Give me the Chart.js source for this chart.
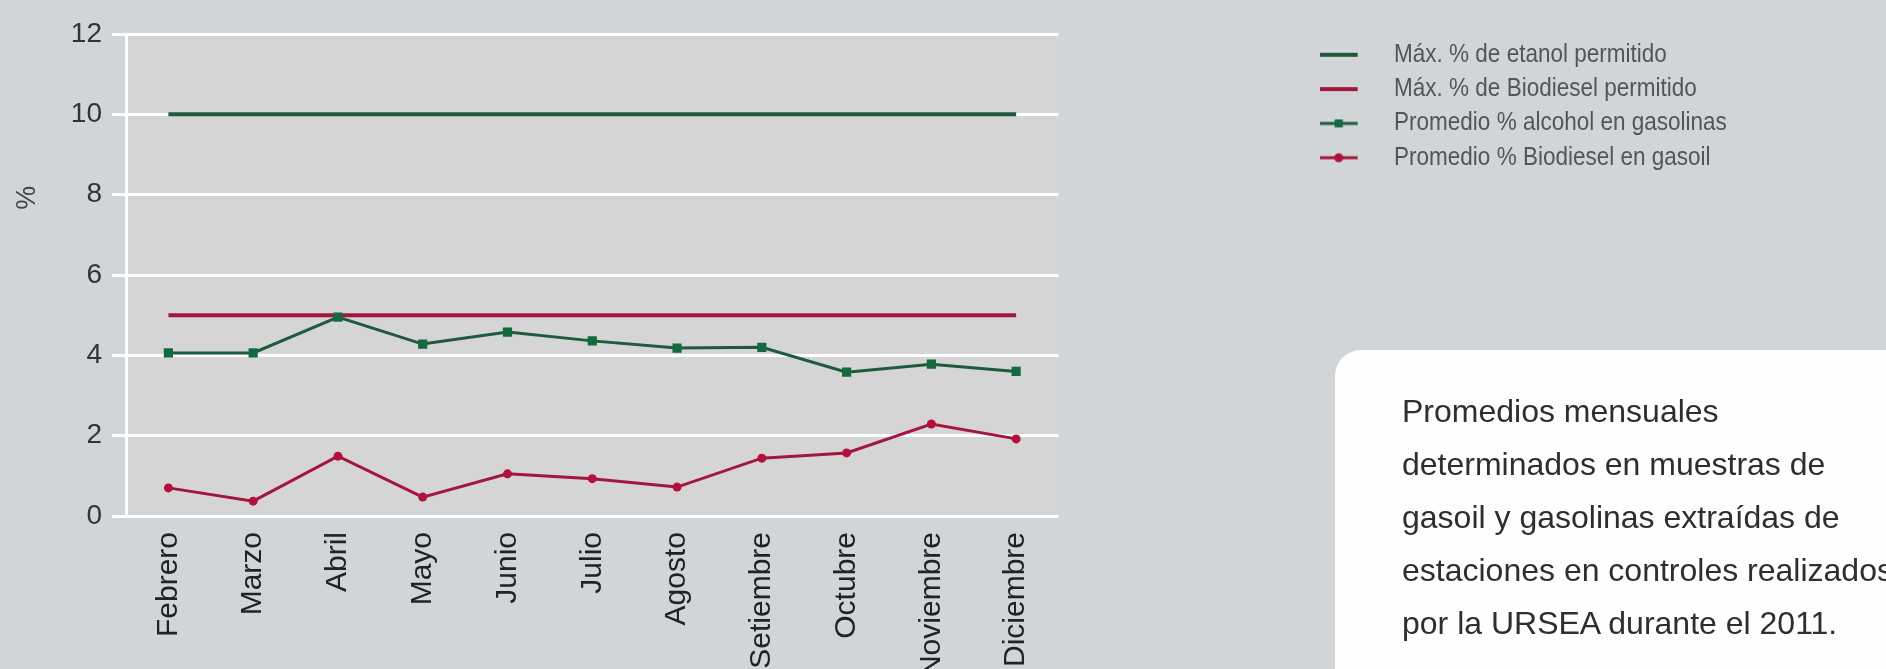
<!DOCTYPE html>
<html>
<head>
<meta charset="utf-8">
<script src="https://cdn.jsdelivr.net/npm/chart.js@4.4.1/dist/chart.umd.min.js"></script>
<style>
  html, body { margin: 0; padding: 0; width: 1886px; height: 669px; overflow: hidden; background: #d2d5d8; }
  #wrap { position: absolute; left: 0; top: 0; width: 1886px; height: 669px; }
  #note {
    position: absolute; left: 1335px; top: 350px; width: 700px; height: 360px;
    background: #fefefe; border-radius: 26px;
  }
  #noteText {
    position: absolute; left: 1402px; top: 385px; white-space: nowrap;
    font-family: "Liberation Sans", Arial, sans-serif; font-size: 32px; line-height: 53px; color: #2e2e2e;
  }
</style>
</head>
<body>
<div id="note"></div>
<div id="wrap"><canvas id="c"></canvas></div>
<div id="noteText">Promedios mensuales<br>determinados en muestras de<br>gasoil y gasolinas extraídas de<br>estaciones en controles realizados<br>por la URSEA durante el 2011.</div>
<script>
const categories = ['Febrero','Marzo','Abril','Mayo','Junio','Julio','Agosto','Setiembre','Octubre','Noviembre','Diciembre'];
const maxEtanol = [10,10,10,10,10,10,10,10,10,10,10];
const maxBiodiesel = [5,5,5,5,5,5,5,5,5,5,5];
const promAlcohol = [4.06,4.06,4.95,4.28,4.58,4.36,4.18,4.2,3.58,3.78,3.6];
const promBiodiesel = [0.70,0.37,1.49,0.47,1.05,0.93,0.72,1.44,1.57,2.29,1.92];
const yTicks = [0,2,4,6,8,10,12];
const seriesLabels = ['Máx. % de etanol permitido','Máx. % de Biodiesel permitido','Promedio % alcohol en gasolinas','Promedio % Biodiesel en gasoil'];

const GREEN_LINE = '#1f5a3c', GREEN_PT = '#136a3f';
const RED_LINE = '#a3173f', RED_PT = '#b3103c';
const SANS = '"Liberation Sans", Arial, sans-serif';
const LEGEND_SX = 0.9;   // horizontal squeeze of the legend (condensed look)

function makeSample(color, lw, marker, markerColor) {
  const c = document.createElement('canvas');
  c.width = 70; c.height = 14;
  const g = c.getContext('2d');
  g.strokeStyle = color; g.lineWidth = lw;
  g.beginPath(); g.moveTo(0, 7); g.lineTo(42, 7); g.stroke();
  g.fillStyle = markerColor;
  if (marker === 'rect') { g.fillRect(21 - 4.5, 3, 9, 8); }
  if (marker === 'circle') { g.beginPath(); g.ellipse(21, 7, 5, 4.5, 0, 0, Math.PI * 2); g.fill(); }
  return c;
}
const samples = [
  makeSample(GREEN_LINE, 4, null),
  makeSample(RED_LINE, 4, null),
  makeSample(GREEN_LINE, 3, 'rect', GREEN_PT),
  makeSample(RED_LINE, 3, 'circle', RED_PT)
];

// legend: allow a wider box than the default limit, and draw it slightly condensed
const legendPlugin = {
  id: 'legendTweak',
  beforeLayout(chart) {
    const lg = chart.legend;
    if (lg && !lg._tweaked) {
      const origFit = lg.fit.bind(lg);
      lg.fit = function () { this.maxWidth = 640; origFit(); };
      const origDraw = lg.draw.bind(lg);
      lg.draw = function (area) {
        const ctx = this.ctx;
        const x0 = this.left + this.options.labels.padding;
        ctx.save();
        ctx.translate(x0, 0); ctx.scale(LEGEND_SX, 1); ctx.translate(-x0, 0);
        origDraw(area);
        ctx.restore();
      };
      lg._tweaked = true;
    }
  }
};

const bgPlugin = {
  id: 'bg',
  beforeDraw(chart) {
    const {ctx, chartArea: a} = chart;
    ctx.save();
    ctx.fillStyle = '#d5d5d5';
    ctx.fillRect(a.left, a.top, a.right - a.left, a.bottom - a.top);
    ctx.restore();
  },
  afterDraw(chart) {
    const ctx = chart.ctx;
    const y = chart.scales.y.getPixelForValue(8) + 3;
    ctx.save();
    ctx.translate(28, y);
    ctx.rotate(-Math.PI / 2);
    ctx.font = '27px ' + SANS;
    ctx.fillStyle = '#444';
    ctx.textAlign = 'center';
    ctx.textBaseline = 'middle';
    ctx.fillText('%', 0, 0);
    ctx.restore();
  }
};

new Chart(document.getElementById('c'), {
  type: 'line',
  data: {
    labels: categories,
    datasets: [
      { label: seriesLabels[0], data: maxEtanol, borderColor: GREEN_LINE, borderWidth: 4, pointRadius: 0, order: 2 },
      { label: seriesLabels[1], data: maxBiodiesel, borderColor: RED_LINE, borderWidth: 4, pointRadius: 0, order: 3 },
      { label: seriesLabels[2], data: promAlcohol, borderColor: GREEN_LINE, borderWidth: 3, pointStyle: 'rect',
        pointRadius: 6.5, pointBackgroundColor: GREEN_PT, pointBorderColor: GREEN_PT, pointBorderWidth: 0, order: 0 },
      { label: seriesLabels[3], data: promBiodiesel, borderColor: RED_LINE, borderWidth: 3, pointStyle: 'circle',
        pointRadius: 4.5, pointBackgroundColor: RED_PT, pointBorderColor: RED_PT, pointBorderWidth: 0, order: 1 }
    ]
  },
  options: {
    responsive: true, maintainAspectRatio: false, animation: false,
    layout: { padding: { top: 33, left: 0, right: 104, bottom: 0 } },
    plugins: {
      tooltip: { enabled: false },
      legend: {
        position: 'right', align: 'start',
        labels: {
          usePointStyle: true, pointStyleWidth: 70, padding: 9.3,
          color: '#555',
          font: { family: SANS, size: 25 },
          generateLabels: (chart) => chart.data.datasets.map((ds, i) => ({
            text: ds.label, pointStyle: samples[i], fillStyle: 'transparent', strokeStyle: 'transparent',
            lineWidth: 0, hidden: false, datasetIndex: i, fontColor: '#555'
          }))
        }
      }
    },
    scales: {
      x: {
        type: 'category', position: 'bottom', offset: true,
        grid: { display: false, drawTicks: false },
        border: { display: false },
        ticks: { autoSkip: false, minRotation: 90, maxRotation: 90, padding: 16, color: '#222',
          font: { family: SANS, size: 30 } },
        afterFit: (s) => { s.height = 153; }
      },
      y: {
        type: 'linear', position: 'left', min: 0, max: 12,
        afterBuildTicks: (s) => { s.ticks = yTicks.map(v => ({ value: v })); },
        grid: { color: '#ffffff', lineWidth: 3, tickLength: 14, drawTicks: true },
        border: { display: true, color: '#ffffff', width: 3 },
        ticks: { padding: 10, color: '#333', font: { family: SANS, size: 28 } },
        afterFit: (s) => { s.width = 126; }
      },
      yPad: {
        type: 'linear', position: 'right', display: true,
        grid: { display: false }, border: { display: false }, ticks: { display: false },
        afterFit: (s) => { s.width = 252; }
      },
      xPad: {
        type: 'linear', position: 'top', axis: 'x', display: true,
        grid: { display: false }, border: { display: false }, ticks: { display: false },
        afterFit: (s) => { s.height = 1; }
      }
    }
  },
  plugins: [legendPlugin, bgPlugin]
});
</script>
</body>
</html>
